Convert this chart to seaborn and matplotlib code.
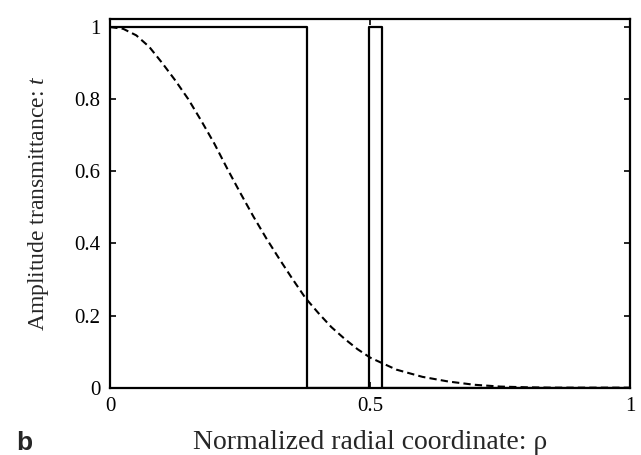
import matplotlib
matplotlib.use('Agg')
import matplotlib.pyplot as plt
import seaborn as sns
import numpy as np
import pandas as pd

# Dashed curve (normalized radial coordinate vs amplitude)
rho_curve = [0.0, 0.025, 0.05, 0.075, 0.10, 0.125, 0.15, 0.175, 0.20, 0.225,
             0.25, 0.275, 0.30, 0.325, 0.35, 0.375, 0.40, 0.425, 0.45, 0.475,
             0.50, 0.55, 0.60, 0.65, 0.70, 0.75, 0.80, 0.85, 1.0]
t_curve = [1.0, 0.995, 0.977, 0.945, 0.900, 0.852, 0.800, 0.740, 0.677, 0.607,
           0.540, 0.475, 0.414, 0.357, 0.302, 0.249, 0.207, 0.168, 0.136, 0.107,
           0.083, 0.050, 0.030, 0.017, 0.008, 0.003, 0.001, 0.0, 0.0]

# Binary (step) mask: transmittance switches at these radii
rho_edges = [0.0, 0.378, 0.497, 0.522, 1.0]
t_step = [1.0, 0.0, 1.0, 0.0, 0.0]

x_ticks = [0, 0.5, 1]
x_tick_labels = ['0', '0.5', '1']
y_ticks = [0, 0.2, 0.4, 0.6, 0.8, 1.0]
y_tick_labels = ['0', '0.2', '0.4', '0.6', '0.8', '1']

sns.set_style('ticks')
plt.rcParams['font.family'] = ['Liberation Serif', 'DejaVu Serif']
plt.rcParams['mathtext.fontset'] = 'custom'
plt.rcParams['mathtext.it'] = 'Liberation Serif:italic'
plt.rcParams['mathtext.rm'] = 'Liberation Serif'

df_curve = pd.DataFrame({'rho': rho_curve, 't': t_curve})
df_step = pd.DataFrame({'rho': rho_edges, 't': t_step})

fig = plt.figure(figsize=(6.41, 4.55), dpi=100)
ax = fig.add_axes([0.172, 0.148, 0.8116, 0.810])

sns.lineplot(data=df_step, x='rho', y='t', ax=ax, color='black', linewidth=1.6,
             drawstyle='steps-post', sort=False, estimator=None)
sns.lineplot(data=df_curve, x='rho', y='t', ax=ax, color='black', linewidth=1.5,
             linestyle=(0, (3.5, 2)), sort=False, estimator=None)

ax.set_xlim(0, 1)
ax.set_ylim(0, 1.022)
ax.set_xticks(x_ticks)
ax.set_xticklabels(x_tick_labels)
ax.set_yticks(y_ticks)
ax.set_yticklabels(y_tick_labels)
ax.tick_params(direction='in', length=4, width=1.2, labelsize=15, colors='black',
               top=True, right=True, pad=7)

for s in ax.spines.values():
    s.set_linewidth(1.6)
    s.set_color('black')

ax.set_xlabel('Normalized radial coordinate: ρ', fontsize=20, labelpad=10)
ax.set_ylabel('Amplitude transmittance: $t$', fontsize=17, labelpad=17)

fig.text(0.025, 0.012, 'b', fontsize=19, fontweight='bold',
         family=['Liberation Sans', 'DejaVu Sans'])

fig.savefig('out.png', dpi=100)
plt.close(fig)
